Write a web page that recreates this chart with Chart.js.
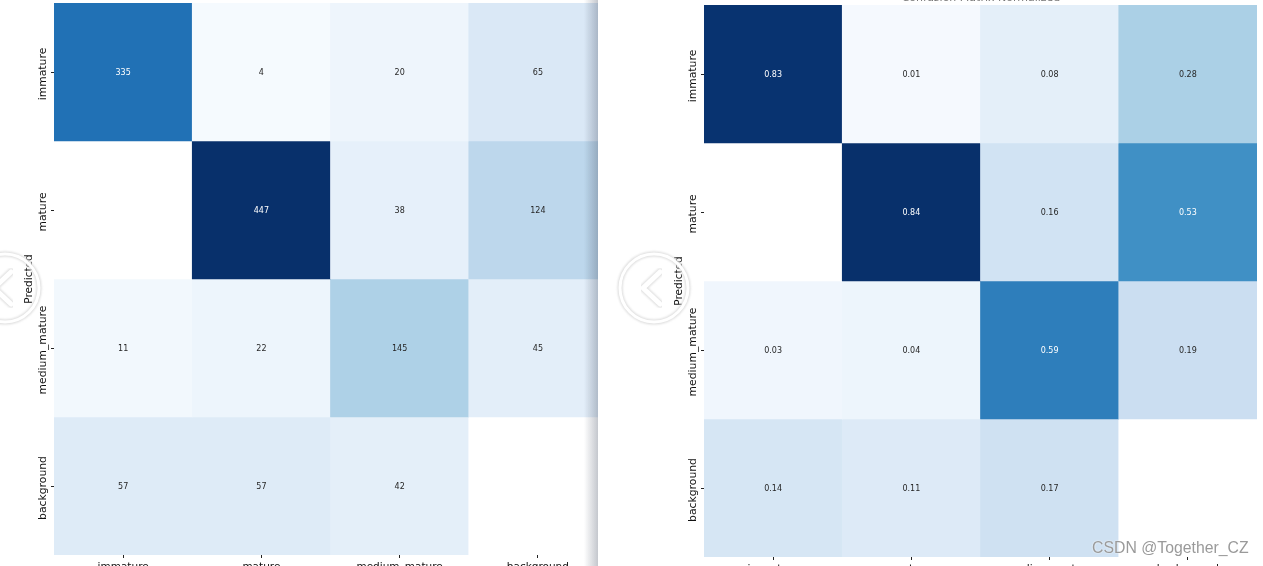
<!DOCTYPE html>
<html>
<head>
<meta charset="utf-8">
<title>Confusion matrix</title>
<script src="https://cdn.jsdelivr.net/npm/chart.js@4"></script>
<style>
  html, body { margin: 0; padding: 0; width: 1263px; height: 566px; overflow: hidden; background: #fff; }
  .pane { position: absolute; top: 0; height: 566px; overflow: hidden; }
  #leftPane { left: 0; width: 598px; }
  #rightPane { left: 598px; width: 665px; }
  canvas { position: absolute; }
  #leftChart { left: 0; top: 0; }
  #rightChart { left: 52px; top: 2px; }
  #edgeShadow {
    position: absolute; left: 584px; top: 0; width: 14px; height: 566px;
    background: linear-gradient(to right, rgba(60,70,90,0), rgba(60,70,90,.3));
  }
  #cutTitle {
    position: absolute; left: 781px; width: 400px; top: -10px; text-align: center;
    font: 11px/15px "DejaVu Sans"; color: #777;
  }
  .nav { position: absolute; width: 78px; height: 78px; top: 249px; }
  #navLeft { left: -34px; }
  #navRight { left: 615px; }
  #mark {
    position: absolute; left: 1092px; top: 538px; white-space: nowrap;
    font: 17px "Liberation Sans"; color: #9a9a9a;
    transform: scaleX(.93); transform-origin: left top;
    text-shadow: 0 0 2px #fff;
  }
</style>
</head>
<body>
<div class="pane" id="leftPane"><canvas id="leftChart" width="613" height="620"></canvas></div>
<div id="edgeShadow"></div>
<div class="pane" id="rightPane"><canvas id="rightChart" width="613" height="620"></canvas></div>
<div id="cutTitle">Confusion Matrix Normalized</div>
<svg width="0" height="0" style="position:absolute"><filter id="soft"><feGaussianBlur stdDeviation="1.2"/></filter></svg>
<svg class="nav" id="navLeft" viewBox="0 0 78 78"><g fill="none" stroke-linecap="round" stroke-linejoin="round"><circle cx="39" cy="39" r="34" stroke="#dcdcdc" stroke-width="5" filter="url(#soft)"/><circle cx="39" cy="39" r="34" stroke="#fff" stroke-width="3"/><path d="M45 23 L28 39 L45 55" stroke="#dcdcdc" stroke-width="7" filter="url(#soft)"/><path d="M45 23 L28 39 L45 55" stroke="#fff" stroke-width="5"/></g></svg>
<svg class="nav" id="navRight" viewBox="0 0 78 78"><g fill="none" stroke-linecap="round" stroke-linejoin="round"><circle cx="39" cy="39" r="34" stroke="#dcdcdc" stroke-width="5" filter="url(#soft)"/><circle cx="39" cy="39" r="34" stroke="#fff" stroke-width="3"/><path d="M45 23 L28 39 L45 55" stroke="#dcdcdc" stroke-width="7" filter="url(#soft)"/><path d="M45 23 L28 39 L45 55" stroke="#fff" stroke-width="5"/></g></svg>
<div id="mark">CSDN @Together_CZ</div>

<script>
const classes = ["immature", "mature", "medium_mature", "background"];

const countImmature = [335, 4, 20, 65];
const countMature = [null, 447, 38, 124];
const countMedium = [11, 22, 145, 45];
const countBackground = [57, 57, 42, null];

const normImmature = [0.83, 0.01, 0.08, 0.28];
const normMature = [null, 0.84, 0.16, 0.53];
const normMedium = [0.03, 0.04, 0.59, 0.19];
const normBackground = [0.14, 0.11, 0.17, null];

// matplotlib "Blues"
const blues = ["#f7fbff", "#deebf7", "#c6dbef", "#9ecae1", "#6baed6", "#4292c6", "#2171b5", "#08519c", "#08306b"];

function hexToRgb(h) {
  return [1, 3, 5].map(i => parseInt(h.substr(i, 2), 16));
}

function cellColor(v, vmax) {
  if (v === null) return "#ffffff";
  const t = Math.min(v / vmax, 1) * (blues.length - 1);
  const i = Math.min(Math.floor(t), blues.length - 2);
  const a = hexToRgb(blues[i]);
  const b = hexToRgb(blues[i + 1]);
  const c = a.map((x, k) => Math.round(x + (b[k] - x) * (t - i)));
  return `rgb(${c[0]},${c[1]},${c[2]})`;
}

// writes the value in the middle of every cell
const cellText = {
  id: "cellText",
  afterDatasetsDraw(chart) {
    const ctx = chart.ctx;
    const vmax = chart.config.options.vmax;
    ctx.save();
    ctx.font = '8px "DejaVu Sans"';
    ctx.textAlign = "center";
    ctx.textBaseline = "middle";
    chart.data.datasets.forEach((ds, r) => {
      chart.getDatasetMeta(r).data.forEach((bar, c) => {
        const v = ds.values[c];
        if (v === null) return;
        ctx.fillStyle = v / vmax > 0.6 ? "#ffffff" : "#262626";
        const text = vmax < 1 ? v.toFixed(2) : String(v);
        ctx.fillText(text, bar.x, (bar.y + bar.base) / 2 + 1);
      });
    });
    ctx.restore();
  }
};

function heatmap(id, rows, vmax) {
  return new Chart(document.getElementById(id), {
    type: "bar",
    data: {
      labels: classes,
      datasets: rows.map((row, r) => ({
        label: classes[r],
        values: row,
        data: row.map(() => [r, r + 1]),
        backgroundColor: row.map(v => cellColor(v, vmax)),
        borderWidth: 0,
        barPercentage: 1,
        categoryPercentage: 1,
        grouped: false
      }))
    },
    plugins: [cellText],
    options: {
      vmax: vmax,
      responsive: false,
      animation: false,
      layout: { padding: { top: 3, right: 6, left: 0, bottom: 0 } },
      plugins: { legend: { display: false }, tooltip: { enabled: false } },
      scales: {
        x: {
          afterFit: s => { s.height = 65; s.paddingLeft = 0; s.paddingRight = 0; },
          border: { display: false },
          grid: { offset: false, drawOnChartArea: false, tickLength: 3, tickColor: "#222" },
          ticks: { color: "#111", padding: 3, maxRotation: 0, autoSkip: false, font: { family: "DejaVu Sans", size: 10.5 } }
        },
        y: {
          min: 0,
          max: 4,
          reverse: true,
          afterFit: s => { s.width = 54; s.paddingTop = 0; s.paddingBottom = 0; },
          afterBuildTicks: s => { s.ticks = classes.map((_, i) => ({ value: i + 0.5 })); },
          border: { display: false },
          grid: { drawOnChartArea: false, tickLength: 3, tickColor: "#222" },
          title: {
            display: true,
            text: "Predicted",
            color: "#111",
            padding: { top: 23, bottom: 0 },
            font: { family: "DejaVu Sans", size: 10.5 }
          },
          ticks: {
            color: "#111",
            padding: -37,
            crossAlign: "center",
            labelOffset: 2,
            minRotation: 90,
            maxRotation: 90,
            autoSkip: false,
            callback: v => classes[v - 0.5],
            font: { family: "DejaVu Sans", size: 10.8 }
          }
        }
      }
    }
  });
}

heatmap("leftChart", [countImmature, countMature, countMedium, countBackground], 447);
heatmap("rightChart", [normImmature, normMature, normMedium, normBackground], 0.84);
</script>
</body>
</html>
